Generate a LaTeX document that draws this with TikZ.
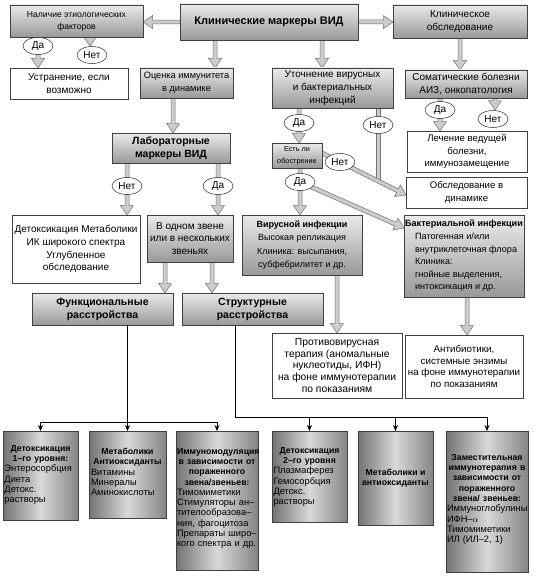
\documentclass[tikz,border=0pt]{standalone}
\usepackage{fontspec}
\setmainfont{Liberation Sans}
\usetikzlibrary{calc,arrows.meta,shapes.geometric,shadows}
\pgfdeclarelayer{bg}
\pgfsetlayers{bg,main}
\newcommand\hollowarr[2]{%
  \path[harrow] let \p1=(#1), \p2=(#2),
    \n1={atan2(\y2-\y1,\x2-\x1)}, \n2={veclen(\x2-\x1,\y2-\y1)} in
    (\p1) ++({\n1+90}:2pt) -- ++({\n1}:{\n2*1pt-9.5pt}) -- ++({\n1+90}:4.5pt) -- (\p2)
    -- ++({\n1+214.3}:11.52pt) -- ++({\n1+90}:4.5pt) -- ++({\n1+180}:{\n2*1pt-9.5pt}) -- cycle;}
\newcommand\hollowshaft[2]{%
  \path[harrow] let \p1=(#1), \p2=(#2),
    \n1={atan2(\y2-\y1,\x2-\x1)}, \n2={veclen(\x2-\x1,\y2-\y1)} in
    (\p1) ++({\n1+90}:2pt) -- ++({\n1}:{\n2*1pt}) -- ++({\n1-90}:4pt) -- ++({\n1+180}:{\n2*1pt}) -- cycle;}
\newcommand\btitle{\centering\fontsize{8.7}{10.3}\selectfont\bfseries}
\begin{document}
\begin{tikzpicture}[x=1pt,y=-1pt,
  bx/.style={draw=black!75, line width=0.6pt, inner sep=1pt, outer sep=0pt, align=center},
  gbox/.style={bx, top color=black!8, bottom color=black!40,
     drop shadow={shadow xshift=1pt,shadow yshift=-1pt,fill=black!55}},
  wbox/.style={bx, fill=white},
  bbox/.style={bx, left color=black!55, right color=black!48, middle color=black!15,
     drop shadow={shadow xshift=1pt,shadow yshift=-1pt,fill=black!55}},
  fn/.style={font=\fontsize{10}{12.7}\selectfont},
  fb/.style={font=\fontsize{10.5}{13}\selectfont\bfseries},
  btxt/.style={inner sep=0pt, anchor=north, font=\fontsize{9.3}{10.3}\selectfont},
  lbl/.style={ellipse, draw=black!85, fill=white, line width=0.5pt, inner sep=0pt,
     minimum width=30pt, minimum height=17pt, font=\fontsize{10}{11}\selectfont},
  harrow/.style={draw=black!55, fill=black!20, line width=0.5pt},
  thin/.style={draw=black, line width=0.7pt},
  tip/.style={-{Stealth[length=6pt,width=5pt]}}
]
\useasboundingbox (0,0) rectangle (536,578);
% top row
\node[gbox, font=\fontsize{8.6}{12}\selectfont, minimum width=133pt, minimum height=32pt] (nal) at (76.5,21) {Наличие этиологических\\факторов};
\node[gbox, font=\fontsize{11}{12}\selectfont\bfseries, minimum width=178pt, minimum height=36pt] (klin) at (269,22) {Клинические маркеры ВИД};
\node[gbox, fn, minimum width=134pt, minimum height=33pt] (klob) at (460,21.5) {Клиническое\\обследование};
% second row
\node[wbox, fn, minimum width=118pt, minimum height=31pt] (ustr) at (69,83.5) {Устранение, если\\возможно};
\node[gbox, font=\fontsize{9.2}{12.7}\selectfont, minimum width=93pt, minimum height=30pt] (ocen) at (186.5,83) {Оценка иммунитета\\в динамике};
\node[gbox, fn, minimum width=121pt, minimum height=40pt] (utoch) at (332.5,88) {Уточнение вирусных\\и бактериальных\\инфекций};
\node[gbox, fn, minimum width=122pt, minimum height=28pt] (somat) at (466,84) {Соматические болезни\\АИЗ, онкопатология};
% third row
\node[gbox, fb, minimum width=118pt, minimum height=30pt] (lab) at (171,148) {Лабораторные\\маркеры ВИД};
\node[wbox, font=\fontsize{9.6}{12.3}\selectfont, minimum width=120pt, minimum height=41pt] (lech) at (467,151.5) {Лечение ведущей\\болезни,\\иммунозамещение};
\node[gbox, font=\fontsize{7.3}{12}\selectfont, minimum width=50pt, minimum height=25pt] (est) at (297,155.5) {Есть ли\\обострение};
\node[wbox, font=\fontsize{9.6}{12.3}\selectfont, minimum width=121pt, minimum height=31pt] (obsl) at (466.5,192.5) {Обследование в\\динамике};
% fourth row
\node[wbox, fn, minimum width=128pt, minimum height=68pt] (detox) at (76,249) {Детоксикация Метаболики\\ИК широкого спектра\\Углубленное\\обследование};
\node[gbox, fn, minimum width=86pt, minimum height=47pt] (odnom) at (190,238.5) {В одном звене\\или в нескольких\\звеньях};
\node[gbox, font=\fontsize{9}{13.5}\selectfont, minimum width=120pt, minimum height=60pt] (vir) at (302,245) {\textbf{Вирусной инфекции}\\Высокая репликация\\Клиника: высыпания,\\субфебрилитет и др.};
\node[gbox, font=\fontsize{9.1}{12.6}\selectfont, align=left, minimum width=118pt, minimum height=82pt] (bact) at (464,256) {\textbf{Бактериальной инфекции}\\\hspace*{10pt}Патогенная и/или\\\hspace*{10pt}внутриклеточная флора\\\hspace*{10pt}Клиника:\\\hspace*{10pt}гнойные выделения,\\\hspace*{10pt}интоксикация и др.};
% fifth row
\node[gbox, fb, minimum width=141pt, minimum height=32pt] (func) at (102.5,309) {Функциональные\\расстройства};
\node[gbox, fb, minimum width=141pt, minimum height=32pt] (struct) at (252.5,309) {Структурные\\расстройства};
\node[wbox, font=\fontsize{10.3}{11.8}\selectfont, minimum width=130pt, minimum height=65pt] (antiv) at (337,365.5) {Противовирусная\\терапия (аномальные\\нуклеотиды, ИФН)\\на фоне иммунотерапии\\по показаниям};
\node[wbox, font=\fontsize{9.8}{11.8}\selectfont, minimum width=118pt, minimum height=63pt] (antib) at (464,366.5) {Антибиотики,\\системные энзимы\\на фоне иммунотерапии\\по показаниям};
% bottom boxes
\node[bbox, minimum width=75pt, minimum height=89pt] (b1) at (40.5,475.5) {};
\node[bbox, minimum width=77pt, minimum height=87pt] (b2) at (127.5,474.5) {};
\node[bbox, minimum width=82pt, minimum height=139pt] (b3) at (217,500.5) {};
\node[bbox, minimum width=75pt, minimum height=91pt] (b4) at (309.5,476.5) {};
\node[bbox, font=\fontsize{8.7}{10.3}\selectfont\bfseries, minimum width=75pt, minimum height=94pt] (b5) at (395.5,478) {Метаболики и\\антиоксиданты};
\node[bbox, minimum width=82pt, minimum height=141pt] (b6) at (487,501.5) {};
\node[btxt, text width=72pt] at ([yshift=-14pt]b1.north) {{\btitle Детоксикация\\1–го уровня:\par}\raggedright Энтеросорбция\\Диета\\Детокс.\\растворы};
\node[btxt, text width=73pt] at ([yshift=-17pt]b2.north) {{\btitle Метаболики\\Антиоксиданты\par}\raggedright Витамины\\Минералы\\Аминокислоты};
\node[btxt, text width=80pt] at ([yshift=-17pt]b3.north) {{\btitle Иммуномодуляция\\в зависимости от\\пораженного\\звена/звеньев:\par}\raggedright Тимомиметики\\Стимуляторы ан–\\тителообразова–\\ния, фагоцитоза\\Препараты широ–\\кого спектра и др.};
\node[btxt, text width=72pt] at ([yshift=-16pt]b4.north) {{\btitle Детоксикация\\2–го уровня\par}\raggedright Плазмаферез\\Гемосорбция\\Детокс.\\растворы};
\node[btxt, text width=80pt] at ([yshift=-23pt]b6.north) {{\btitle Заместительная\\иммунотерапия в\\зависимости от\\пораженного\\звена/ звеньев:\par}\raggedright Иммуноглобулины\\ИФН–$\alpha$\\Тимомиметики\\ИЛ (ИЛ–2, 1)};
% yes/no labels
\node[lbl] (daNal) at (38,46) {Да};
\node[lbl] (netNal) at (92,55) {Нет};
\node[lbl] (daSom) at (440,110) {Да};
\node[lbl] (netSom) at (493,119) {Нет};
\node[lbl] (daUt) at (299,123) {Да};
\node[lbl] (netUt) at (378,125) {Нет};
\node[lbl] (netEst) at (340,162) {Нет};
\node[lbl] (daEst) at (300,182) {Да};
\node[lbl] (netLab) at (127,186) {Нет};
\node[lbl] (daLab) at (218,186) {Да};
\coordinate (jn) at (378,181);
% hollow arrows
\begin{pgfonlayer}{bg}
\hollowarr{klin.west |- 0,22}{nal.east |- 0,22}
\hollowarr{klin.east |- 0,22}{klob.west |- 0,22}
\hollowarr{klin.south -| 215,0}{ocen.north -| 215,0}
\hollowarr{klin.south -| 322,0}{utoch.north -| 322,0}
\hollowarr{klob.south -| 460,0}{somat.north -| 460,0}
\hollowarr{nal.south -| 38,0}{ustr.north -| 38,0}
\hollowarr{nal.south -| 90,0}{netNal.north -| 90,0}
\hollowarr{ocen.south -| 173,0}{lab.north -| 173,0}
\hollowarr{utoch.south -| 299,0}{est.north -| 299,0}
\hollowshaft{utoch.south -| 378,0}{jn}
\hollowarr{est.east |- 0,153}{obsl.west |- 0,195}
\hollowarr{somat.south -| 440,0}{lech.north -| 440,0}
\hollowarr{somat.south -| 495,0}{netSom.north -| 495,0}
\hollowarr{lab.south -| 127,0}{detox.north -| 127,0}
\hollowarr{lab.south -| 218,0}{odnom.north -| 218,0}
\hollowarr{est.south -| 300,0}{vir.north -| 300,0}
\hollowarr{daEst.center}{bact.west |- 0,228}
\hollowarr{odnom.south -| 165,0}{func.north -| 165,0}
\hollowarr{odnom.south -| 212,0}{struct.north -| 212,0}
\hollowarr{vir.south -| 337,0}{antiv.north -| 337,0}
\hollowarr{bact.south -| 467,0}{antib.north -| 467,0}
\end{pgfonlayer}
% thin connectors
\coordinate (jf) at (127.5,422);
\coordinate (js) at (235,417);
\draw[thin,tip] (func.south -| jf) -- (b2.north);
\draw[thin] (b1.north |- jf) -- (b3.north |- jf);
\draw[thin,tip] (b1.north |- jf) -- (b1.north);
\draw[thin,tip] (b3.north |- jf) -- (b3.north);
\draw[thin,tip] (struct.south -| js) |- (b6.north |- js) -- (b6.north);
\draw[thin,tip] (b4.north |- js) -- (b4.north);
\draw[thin,tip] (b5.north |- js) -- (b5.north);
\end{tikzpicture}
\end{document}
